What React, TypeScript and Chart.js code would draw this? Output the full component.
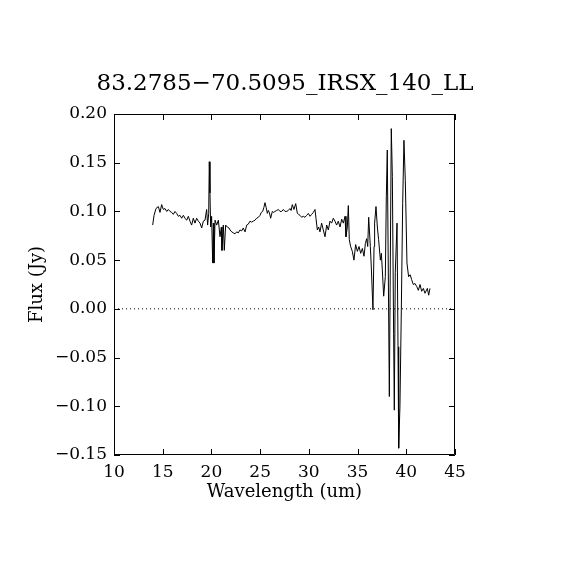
import React, { useEffect, useRef } from "react";
import { Chart, registerables } from "chart.js";

Chart.register(...registerables);

const TITLE = "83.2785\u221270.5095_IRSX_140_LL";
const X_LABEL = "Wavelength (um)";
const Y_LABEL = "Flux (Jy)";

const X_MIN = 10;
const X_MAX = 45;
const X_STEP = 5;
const Y_MIN = -0.15;
const Y_MAX = 0.2;
const Y_STEP = 0.05;

const wavelength = [
  13.97, 14.11, 14.31, 14.55, 14.72, 14.89, 15.06, 15.23, 15.41, 15.58,
  15.75, 15.92, 16.09, 16.26, 16.43, 16.6, 16.77, 16.95, 17.12, 17.29,
  17.46, 17.63, 17.8, 17.97, 18.14, 18.31, 18.48, 18.66, 18.83, 19.0,
  19.17, 19.34, 19.51, 19.61, 19.72, 19.78, 19.85, 19.92, 20.02, 20.13,
  20.2, 20.26, 20.37, 20.54, 20.71, 20.88, 21.02, 21.08, 21.22, 21.32,
  21.46, 21.63, 21.8, 21.91, 22.08, 22.25, 22.42, 22.59, 22.76, 22.93,
  23.1, 23.27, 23.45, 23.62, 23.79, 23.96, 24.13, 24.3, 24.47, 24.64,
  24.82, 24.99, 25.12, 25.26, 25.38, 25.5, 25.62, 25.74, 25.84, 25.94,
  26.08, 26.25, 26.38, 26.52, 26.7, 26.87, 27.04, 27.21, 27.38, 27.55,
  27.72, 27.89, 28.06, 28.18, 28.3, 28.47, 28.65, 28.82, 28.95, 29.09,
  29.26, 29.43, 29.6, 29.78, 29.95, 30.12, 30.29, 30.46, 30.63, 30.73,
  30.87, 31.01, 31.14, 31.31, 31.48, 31.66, 31.83, 32.0, 32.17, 32.34,
  32.51, 32.68, 32.85, 33.02, 33.2, 33.37, 33.54, 33.71, 33.81, 33.95,
  34.05, 34.15, 34.29, 34.46, 34.63, 34.8, 34.98, 35.15, 35.32, 35.49,
  35.66, 35.8, 35.93, 36.04, 36.14, 36.31, 36.41, 36.58, 36.69, 36.75,
  36.89, 37.03, 37.16, 37.34, 37.44, 37.54, 37.68, 37.85, 37.95, 38.05,
  38.26, 38.46, 38.57, 38.7, 38.77, 38.87, 39.05, 39.15, 39.22, 39.35,
  39.49, 39.63, 39.76, 39.9, 40.07, 40.24, 40.4, 40.55, 40.72, 40.89,
  41.07, 41.24, 41.41, 41.58, 41.75, 41.92, 42.16, 42.3, 42.43,
];

const flux = [
  0.086, 0.096, 0.103, 0.105, 0.099, 0.107, 0.102, 0.103, 0.1, 0.102,
  0.1, 0.099, 0.097, 0.1, 0.098, 0.095, 0.096, 0.093, 0.096, 0.093,
  0.091, 0.095, 0.09, 0.086, 0.093, 0.088, 0.093, 0.09, 0.088, 0.083,
  0.09, 0.091, 0.102, 0.086, 0.098, 0.151, 0.119, 0.084, 0.095, 0.047,
  0.088, 0.047, 0.091, 0.086, 0.091, 0.074, 0.084, 0.06, 0.086, 0.06,
  0.086, 0.084, 0.083, 0.081, 0.079, 0.078, 0.077, 0.079, 0.078, 0.081,
  0.08, 0.083, 0.079, 0.086, 0.087, 0.09, 0.089, 0.09, 0.091, 0.093,
  0.094, 0.096, 0.099, 0.1, 0.104, 0.109, 0.104, 0.098, 0.101, 0.099,
  0.093, 0.1, 0.099, 0.1, 0.101, 0.102, 0.1, 0.1, 0.102, 0.1,
  0.1, 0.101, 0.103, 0.101, 0.107, 0.102, 0.108, 0.098, 0.097, 0.096,
  0.094, 0.095, 0.094, 0.096, 0.098, 0.095, 0.097, 0.099, 0.102, 0.093,
  0.081, 0.084, 0.079, 0.088, 0.081, 0.074, 0.086, 0.081, 0.09, 0.088,
  0.093, 0.09, 0.086, 0.09, 0.084, 0.092, 0.088, 0.095, 0.074, 0.084,
  0.106, 0.071, 0.064, 0.059, 0.05, 0.066, 0.059, 0.064, 0.057, 0.062,
  0.054, 0.067, 0.072, 0.064, 0.094, 0.064, 0.043, -0.001, 0.064, 0.088,
  0.105, 0.084, 0.071, 0.05, 0.057, 0.04, 0.013, 0.033, 0.115, 0.163,
  -0.09, 0.185, 0.136, -0.025, -0.104, 0.037, 0.088, -0.039, -0.143, -0.1,
  -0.001, 0.108, 0.173, 0.132, 0.047, 0.033, 0.035, 0.03, 0.025, 0.026,
  0.023, 0.019, 0.025, 0.018, 0.021, 0.016, 0.021, 0.014, 0.021,
];

const zeroLineX = [X_MIN, X_MAX];
const zeroLineY = [0, 0];

const FONT = "'DejaVu Serif', 'Liberation Serif', serif";

const frameTicksPlugin = {
  id: "frameTicks",
  afterDatasetsDraw(chart: any) {
    const { ctx, chartArea, scales } = chart;
    const { left, right, top, bottom } = chartArea;
    const len = 6;
    ctx.save();
    ctx.strokeStyle = "#000";
    ctx.lineWidth = 1;
    ctx.beginPath();
    ctx.rect(left + 0.5, top + 0.5, right - left - 1, bottom - top - 1);
    for (const t of scales.x.ticks) {
      const px = Math.round(scales.x.getPixelForValue(t.value)) + 0.5;
      ctx.moveTo(px, bottom);
      ctx.lineTo(px, bottom - len);
      ctx.moveTo(px, top);
      ctx.lineTo(px, top + len);
    }
    for (const t of scales.y.ticks) {
      const py = Math.round(scales.y.getPixelForValue(t.value)) + 0.5;
      ctx.moveTo(left, py);
      ctx.lineTo(left + len, py);
      ctx.moveTo(right, py);
      ctx.lineTo(right - len, py);
    }
    ctx.stroke();
    ctx.restore();
  },
};

export default function App() {
  const canvasRef = useRef<HTMLCanvasElement | null>(null);

  useEffect(() => {
    const canvas = canvasRef.current;
    if (!canvas) return;
    const spectrum = wavelength.map((w, i) => ({ x: w, y: flux[i] }));
    const zero = zeroLineX.map((w, i) => ({ x: w, y: zeroLineY[i] }));
    const chart = new Chart(canvas, {
      type: "line",
      data: {
        datasets: [
          {
            data: zero,
            borderColor: "#000",
            borderWidth: 1,
            borderDash: [1, 3],
            pointRadius: 0,
            fill: false,
          },
          {
            data: spectrum,
            borderColor: "#000",
            borderWidth: 1,
            pointRadius: 0,
            tension: 0,
            fill: false,
          },
        ],
      },
      options: {
        animation: false,
        responsive: false,
        devicePixelRatio: 1,
        layout: { padding: 0 },
        plugins: {
          legend: { display: false },
          tooltip: { enabled: false },
          title: {
            display: true,
            text: TITLE,
            fullSize: true,
            color: "#000",
            font: { family: FONT, size: 23, weight: "normal" },
            padding: { top: 70.2, bottom: 16.2 },
          },
        },
        scales: {
          x: {
            type: "linear",
            min: X_MIN,
            max: X_MAX,
            afterFit: (s: any) => {
              s.height = 115;
            },
            ticks: {
              stepSize: X_STEP,
              color: "#000",
              padding: 7,
              maxRotation: 0,
              font: { family: FONT, size: 17 },
              callback: (v: any) => String(Math.round(Number(v))),
            },
            grid: { display: false, drawTicks: false },
            border: { display: false },
            title: {
              display: true,
              text: X_LABEL,
              color: "#000",
              font: { family: FONT, size: 18 },
              padding: { top: 0, bottom: 67.2 },
            },
          },
          y: {
            type: "linear",
            min: Y_MIN,
            max: Y_MAX,
            afterFit: (s: any) => {
              s.width = 114;
            },
            ticks: {
              stepSize: Y_STEP,
              color: "#000",
              padding: 7,
              font: { family: FONT, size: 17 },
              callback: (v: any) => Number(v).toFixed(2).replace("-", "\u2212"),
            },
            grid: { display: false, drawTicks: false },
            border: { display: false },
            title: {
              display: true,
              text: Y_LABEL,
              color: "#000",
              font: { family: FONT, size: 18 },
              padding: { top: 26.7, bottom: 0 },
            },
          },
          yRight: {
            type: "linear",
            position: "right",
            min: Y_MIN,
            max: Y_MAX,
            afterFit: (s: any) => {
              s.width = 115;
            },
            ticks: { display: false },
            grid: { display: false, drawTicks: false },
            border: { display: false },
          },
        },
      },
      plugins: [frameTicksPlugin],
    });
    return () => chart.destroy();
  }, []);

  return (
    <div style={{ position: "fixed", left: 0, top: 0, width: 570, height: 570, background: "#fff" }}>
      <canvas ref={canvasRef} width={570} height={570} style={{ width: 570, height: 570 }} />
    </div>
  );
}
